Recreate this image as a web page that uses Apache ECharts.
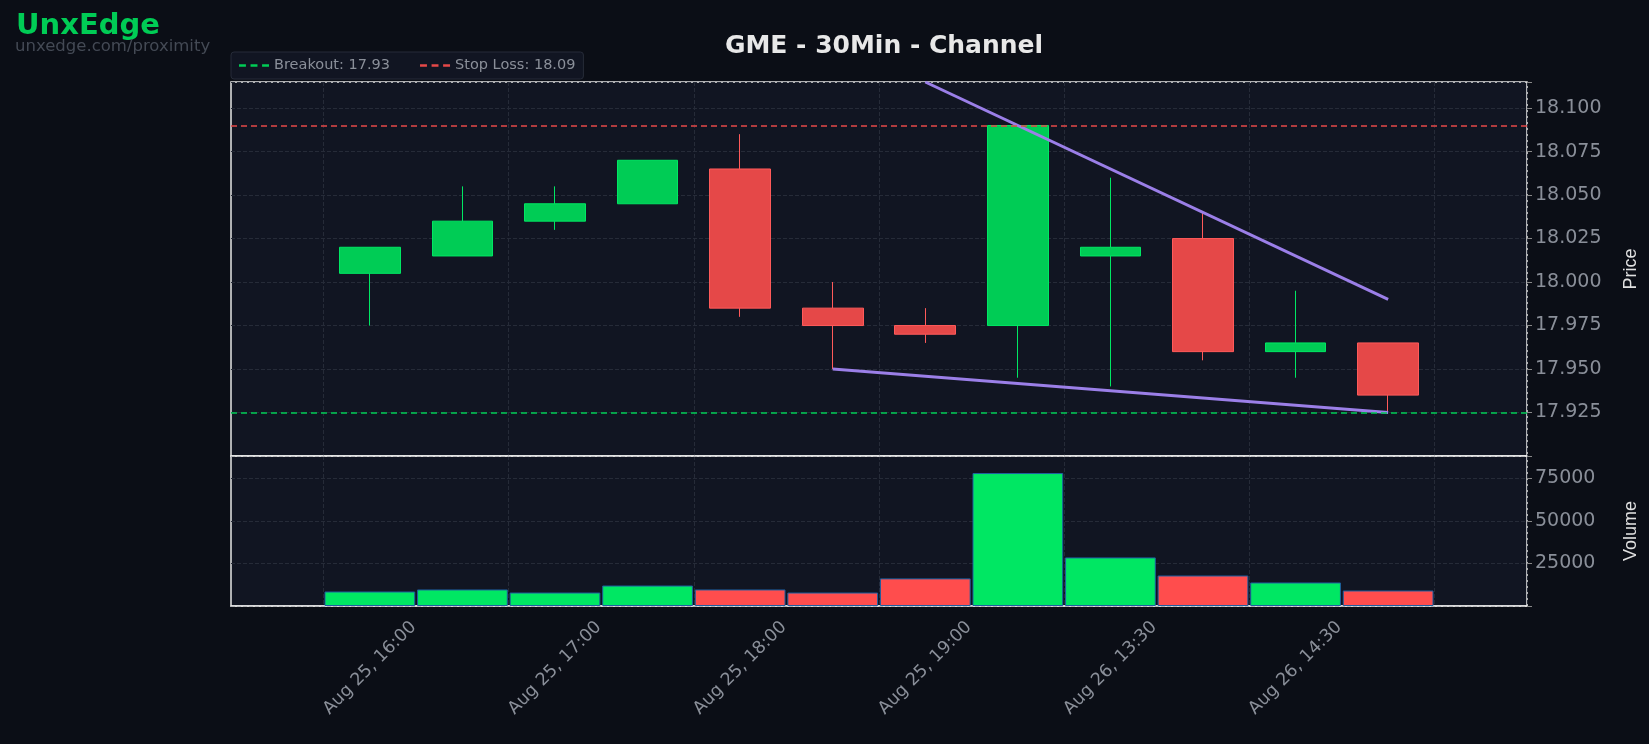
<!DOCTYPE html>
<html><head><meta charset="utf-8">
<script src="https://cdn.jsdelivr.net/npm/echarts@6/dist/echarts.min.js"></script>
<style>html,body{margin:0;background:#0b0e16}#main{width:1649px;height:744px}</style>
</head><body><div id="main"></div>
<script>
// categories (first slot is left padding, last is empty tick)
var categories = ['', 'Aug 25, 16:00', 'Aug 25, 16:30', 'Aug 25, 17:00', 'Aug 25, 17:30', 'Aug 25, 18:00', 'Aug 25, 18:30',
  'Aug 25, 19:00', 'Aug 25, 19:30', 'Aug 26, 13:30', 'Aug 26, 14:00', 'Aug 26, 14:30', 'Aug 26, 15:00', ''];
// open, close, low, high
var opens  = [18.005, 18.015, 18.035, 18.045, 18.065, 17.985, 17.975, 17.975, 18.015, 18.025, 17.960, 17.965];
var closes = [18.020, 18.035, 18.045, 18.070, 17.985, 17.975, 17.970, 18.090, 18.020, 17.960, 17.965, 17.935];
var lows   = [17.975, 18.015, 18.030, 18.045, 17.980, 17.950, 17.965, 17.945, 17.940, 17.955, 17.945, 17.925];
var highs  = [18.020, 18.055, 18.055, 18.070, 18.085, 18.000, 17.985, 18.090, 18.060, 18.040, 17.995, 17.965];
var volumes = [8500, 9700, 7900, 12000, 9700, 7900, 16200, 78000, 28500, 17900, 13800, 9100];
var breakout = 17.925, stopLoss = 18.09;
var upperLine = [['Aug 25, 19:00', 18.115], ['Aug 26, 15:00', 17.99]];
var lowerLine = [['Aug 25, 18:30', 17.95], ['Aug 26, 15:00', 17.925]];

var GREEN = '#00cc55', RED = '#e54848';
var candleData = ['-'], volData = ['-'];
for (var i = 0; i < opens.length; i++) {
  candleData.push([opens[i], closes[i], lows[i], highs[i]]);
  var up = closes[i] >= opens[i];
  volData.push({value: volumes[i], itemStyle: {color: up ? '#00e763' : '#ff4d4d'}});
}
candleData.push('-'); volData.push('-');

var myChart = echarts.init(document.getElementById('main'));
var gridLine = {show: true, lineStyle: {color: '#262b38', type: 'dashed'}};
var oddIdx = function (i) { return i % 2 == 1; };
var xCommon = {
  type: 'category', data: categories, boundaryGap: true,
  axisLine: {lineStyle: {color: '#e6e6e6', width: 1.5}},
  axisTick: {interval: oddIdx, alignWithLabel: true, length: 6, lineStyle: {color: '#888'}},
  splitLine: {show: true, interval: oddIdx, lineStyle: {color: '#262b38', type: 'dashed'}}
};
var option = {
  backgroundColor: '#0b0e16',
  title: {text: 'GME - 30Min - Channel', left: 879, top: 29, textAlign: 'center',
    textStyle: {color: '#e8e8e8', fontSize: 25, fontWeight: 'bold', fontFamily: 'DejaVu Sans'}},
  graphic: [
    {type: 'text', left: 16, top: 12, style: {text: 'UnxEdge', fill: '#00cc55', font: 'bold 29px DejaVu Sans'}},
    {type: 'text', left: 15, top: 38, style: {text: 'unxedge.com/proximity', fill: '#444a55', font: '16.5px DejaVu Sans'}}
  ],
  legend: {
    left: 231, top: 52, itemGap: 30, itemWidth: 30, itemHeight: 8,
    backgroundColor: '#111522', borderColor: '#262b38', borderWidth: 1, borderRadius: 3, padding: [6, 8],
    textStyle: {color: '#8a8f99', fontSize: 14.5, fontFamily: 'DejaVu Sans'},
    data: [{name: 'Breakout: 17.93', icon: 'path://M0,0h6v2h-6z M10,0h6v2h-6z M20,0h6v2h-6z'},
           {name: 'Stop Loss: 18.09', icon: 'path://M0,0h6v2h-6z M10,0h6v2h-6z M20,0h6v2h-6z'}]
  },
  grid: [
    {left: 231, right: 122, top: 82, height: 374, backgroundColor: '#111522', show: true, borderColor: '#e6e6e6', borderWidth: 1.5},
    {left: 231, right: 122, top: 456, height: 150, backgroundColor: '#111522', show: true, borderColor: '#e6e6e6', borderWidth: 1.5}
  ],
  xAxis: [
    Object.assign({}, xCommon, {gridIndex: 0, axisLabel: {show: false}, axisTick: {show: false}}),
    Object.assign({}, xCommon, {gridIndex: 1,
      axisLabel: {interval: oddIdx, rotate: 45, align: 'center', verticalAlign: 'middle', color: '#8a8f99',
        fontSize: 17.5, fontFamily: 'DejaVu Sans', margin: 62}})
  ],
  yAxis: [
    {gridIndex: 0, position: 'right', min: 17.9, max: 18.115, interval: 0.025, name: 'Price', nameLocation: 'middle', nameGap: 95,
      nameTextStyle: {color: '#e0e0e0', fontSize: 18}, axisLine: {show: false},
      axisTick: {show: true, lineStyle: {color: '#888'}},
      axisLabel: {color: '#8a8f99', fontSize: 19, fontFamily: 'DejaVu Sans',
        formatter: function (v) { return (v < 17.91 || v > 18.11) ? '' : v.toFixed(3); }},
      splitLine: gridLine},
    {gridIndex: 1, position: 'right', min: 0, max: 88000, interval: 25000, name: 'Volume', nameLocation: 'middle', nameGap: 95,
      nameTextStyle: {color: '#e0e0e0', fontSize: 18}, axisLine: {show: false},
      axisTick: {show: true, lineStyle: {color: '#888'}},
      axisLabel: {color: '#8a8f99', fontSize: 19, fontFamily: 'DejaVu Sans',
        formatter: function (v) { return v > 0 && v < 88000 ? v : ''; }},
      splitLine: gridLine}
  ],
  series: [
    {type: 'candlestick', xAxisIndex: 0, yAxisIndex: 0, data: candleData, barWidth: '66%',
      itemStyle: {color: GREEN, color0: RED, borderColor: '#00e763', borderColor0: '#ff5a5a', borderWidth: 1},
      markLine: {symbol: 'none', silent: true, label: {show: false}, animation: false, precision: 4,
        data: [{yAxis: breakout, lineStyle: {color: '#00cc55', type: [6, 4], width: 1.6}},
               {yAxis: stopLoss, lineStyle: {color: '#e54848', type: [6, 4], width: 1.6}}]}},
    {type: 'bar', xAxisIndex: 1, yAxisIndex: 1, data: volData, barWidth: '98%',
      itemStyle: {borderColor: '#1f5fa0', borderWidth: 1}},
    {type: 'line', name: 'upper', data: upperLine, symbol: 'none', lineStyle: {color: '#9b7fe8', width: 3}, color: '#9b7fe8'},
    {type: 'line', name: 'lower', data: lowerLine, symbol: 'none', lineStyle: {color: '#9b7fe8', width: 3}, color: '#9b7fe8'},
    {type: 'line', name: 'Breakout: 17.93', data: [], color: '#00cc55'},
    {type: 'line', name: 'Stop Loss: 18.09', data: [], color: '#e54848'}
  ]
};
myChart.setOption(option);
</script></body></html>
